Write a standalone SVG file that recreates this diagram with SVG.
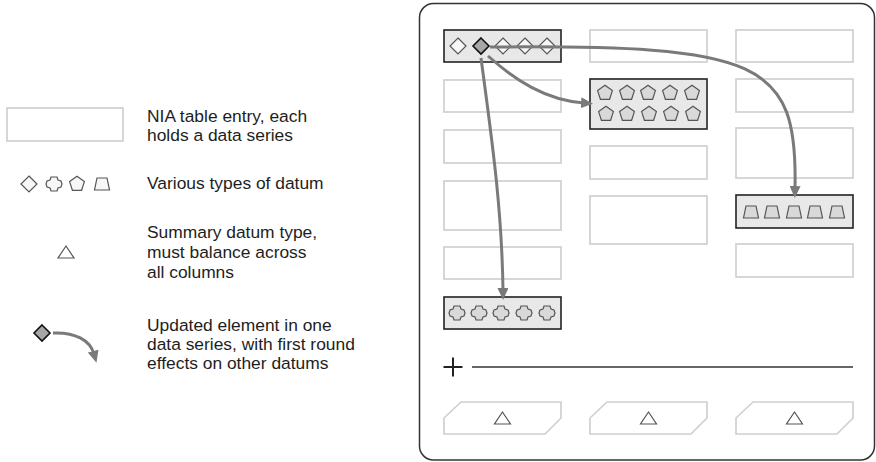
<svg xmlns="http://www.w3.org/2000/svg" xmlns:xlink="http://www.w3.org/1999/xlink" width="876" height="462" viewBox="0 0 876 462">
<style>
  .lbl { font-family: "Liberation Sans", Arial, sans-serif; font-size: 17.4px; fill: #1e1e1e; }
  .empty { fill: #fff; stroke: #d0d0d0; stroke-width: 1.7; }
  .hl { fill: #e8e8e8; stroke: #222; stroke-width: 1.6; }
  .shape { fill: #d9d9d9; stroke: #555; stroke-width: 1.2; }
  .shapeLight { fill: #f7f7f7; stroke: #555; stroke-width: 1.2; }
  .upd { fill: #a6a6a6; stroke: #111; stroke-width: 1.6; }
  .tri { fill: #fff; stroke: #555; stroke-width: 1.2; }
  .conn { fill: none; stroke: #7a7a7a; stroke-width: 3; }
</style>
<defs>
  <path id="dia" d="M0,-8 L8,0 L0,8 L-8,0 Z"/>
  <path id="pent" d="M0,-7.8 L7.4,-2.4 L4.6,6.3 L-4.6,6.3 L-7.4,-2.4 Z"/>
  <path id="trap" d="M-5,-6 L5,-6 L7.5,6 L-7.5,6 Z"/>
  <path id="crs" d="M-3,-7 L3,-7 L4,-4 L7,-3 L8,0 L7,3 L4,4 L3,7 L-3,7 L-4,4 L-7,3 L-8,0 L-7,-3 L-4,-4 Z"/>
  <path id="tri" d="M0,-6 L8,6 L-8,6 Z"/>
  <path id="para" d="M17,0 L117,0 L117,16 L101,32 L0,32 L0,16 Z"/>
  <marker id="ah" viewBox="0 0 12 11" refX="3" refY="5.5" markerWidth="12" markerHeight="11" markerUnits="userSpaceOnUse" orient="auto">
    <path d="M0,0 L12,5.5 L0,11 Z" fill="#7a7a7a"/>
  </marker>
</defs>

<!-- Legend -->
<g id="legend-entry">
  <rect class="empty" x="7" y="108" width="116" height="33"/>
  <text class="lbl" x="147" y="122">NIA table entry, each</text>
  <text class="lbl" x="147" y="141">holds a data series</text>
</g>
<g id="legend-datum">
  <use href="#dia" x="29" y="184" class="shapeLight"/>
  <use href="#crs" x="54" y="184" class="shapeLight"/>
  <use href="#pent" x="77" y="184" class="shapeLight"/>
  <use href="#trap" x="102" y="184" class="shapeLight"/>
  <text class="lbl" x="147" y="189">Various types of datum</text>
</g>
<g id="legend-summary">
  <use href="#tri" x="66" y="252" class="tri"/>
  <text class="lbl" x="147" y="238">Summary datum type,</text>
  <text class="lbl" x="147" y="258">must balance across</text>
  <text class="lbl" x="147" y="278">all columns</text>
</g>
<g id="legend-update">
  <use href="#dia" x="42" y="333" class="upd"/>
  <path class="conn" d="M53,333 C75,332 90,340 94,354" marker-end="url(#ah)"/>
  <text class="lbl" x="147" y="331">Updated element in one</text>
  <text class="lbl" x="147" y="350">data series, with first round</text>
  <text class="lbl" x="147" y="369">effects on other datums</text>
</g>

<!-- Frame -->
<rect x="419.5" y="3.5" width="455" height="456.5" rx="14" fill="#fff" stroke="#333" stroke-width="1.5"/>

<!-- Column 1 -->
<g id="c1r1">
  <rect class="hl" x="444" y="30" width="117" height="32"/>
  <use href="#dia" x="458" y="46" class="shapeLight"/>
  <use href="#dia" x="481" y="46" class="upd"/>
  <use href="#dia" x="503" y="46" class="shapeLight"/>
  <use href="#dia" x="525" y="46" class="shapeLight"/>
  <use href="#dia" x="547" y="46" class="shapeLight"/>
</g>
<g id="c1r2"><rect class="empty" x="444" y="80" width="117" height="32"/></g>
<g id="c1r3"><rect class="empty" x="444" y="130" width="117" height="33"/></g>
<g id="c1r4"><rect class="empty" x="444" y="181" width="117" height="49"/></g>
<g id="c1r5"><rect class="empty" x="444" y="247" width="117" height="32"/></g>
<g id="c1r6">
  <rect class="hl" x="444" y="297" width="117" height="32"/>
  <use href="#crs" x="457" y="313" class="shape"/>
  <use href="#crs" x="479" y="313" class="shape"/>
  <use href="#crs" x="501" y="313" class="shape"/>
  <use href="#crs" x="524" y="313" class="shape"/>
  <use href="#crs" x="547" y="313" class="shape"/>
</g>

<!-- Column 2 -->
<g id="c2r1"><rect class="empty" x="590" y="30" width="117" height="32"/></g>
<g id="c2r2">
  <rect class="hl" x="590" y="79" width="117" height="50"/>
  <use href="#pent" x="605" y="93" class="shape"/>
  <use href="#pent" x="627" y="93" class="shape"/>
  <use href="#pent" x="648" y="93" class="shape"/>
  <use href="#pent" x="670" y="93" class="shape"/>
  <use href="#pent" x="692" y="93" class="shape"/>
  <use href="#pent" x="606" y="114" class="shape"/>
  <use href="#pent" x="627" y="114" class="shape"/>
  <use href="#pent" x="649" y="114" class="shape"/>
  <use href="#pent" x="671" y="114" class="shape"/>
  <use href="#pent" x="693" y="114" class="shape"/>
</g>
<g id="c2r3"><rect class="empty" x="590" y="146" width="117" height="33"/></g>
<g id="c2r4"><rect class="empty" x="590" y="196" width="117" height="48"/></g>

<!-- Column 3 -->
<g id="c3r1"><rect class="empty" x="736" y="30" width="117" height="32"/></g>
<g id="c3r2"><rect class="empty" x="736" y="79" width="117" height="33"/></g>
<g id="c3r3"><rect class="empty" x="736" y="128" width="117" height="50"/></g>
<g id="c3r4">
  <rect class="hl" x="736" y="195" width="117" height="33"/>
  <use href="#trap" x="751" y="212" class="shape"/>
  <use href="#trap" x="772" y="212" class="shape"/>
  <use href="#trap" x="794" y="212" class="shape"/>
  <use href="#trap" x="815" y="212" class="shape"/>
  <use href="#trap" x="837" y="212" class="shape"/>
</g>
<g id="c3r5"><rect class="empty" x="736" y="244" width="117" height="33"/></g>

<!-- Sum line -->
<g id="sum">
  <path d="M443.5,367 L462.5,367 M453,357.5 L453,376.5" stroke="#222" stroke-width="2" fill="none"/>
  <line x1="472" y1="367" x2="853" y2="367" stroke="#333" stroke-width="1.5"/>
</g>

<!-- Summary row -->
<g id="s1"><use href="#para" x="444" y="402" class="empty"/><use href="#tri" x="502.5" y="418" class="tri"/></g>
<g id="s2"><use href="#para" x="590" y="402" class="empty"/><use href="#tri" x="648.5" y="418" class="tri"/></g>
<g id="s3"><use href="#para" x="736" y="402" class="empty"/><use href="#tri" x="794.5" y="418" class="tri"/></g>

<!-- Connectors -->
<g id="connectors">
  <path class="conn" d="M490,47 C760,45 798,60 795,189" marker-end="url(#ah)"/>
  <path class="conn" d="M488,56 C515,80 545,100 584,103" marker-end="url(#ah)"/>
  <path class="conn" d="M481,58 C492,140 502,210 503,291" marker-end="url(#ah)"/>
</g>
</svg>
